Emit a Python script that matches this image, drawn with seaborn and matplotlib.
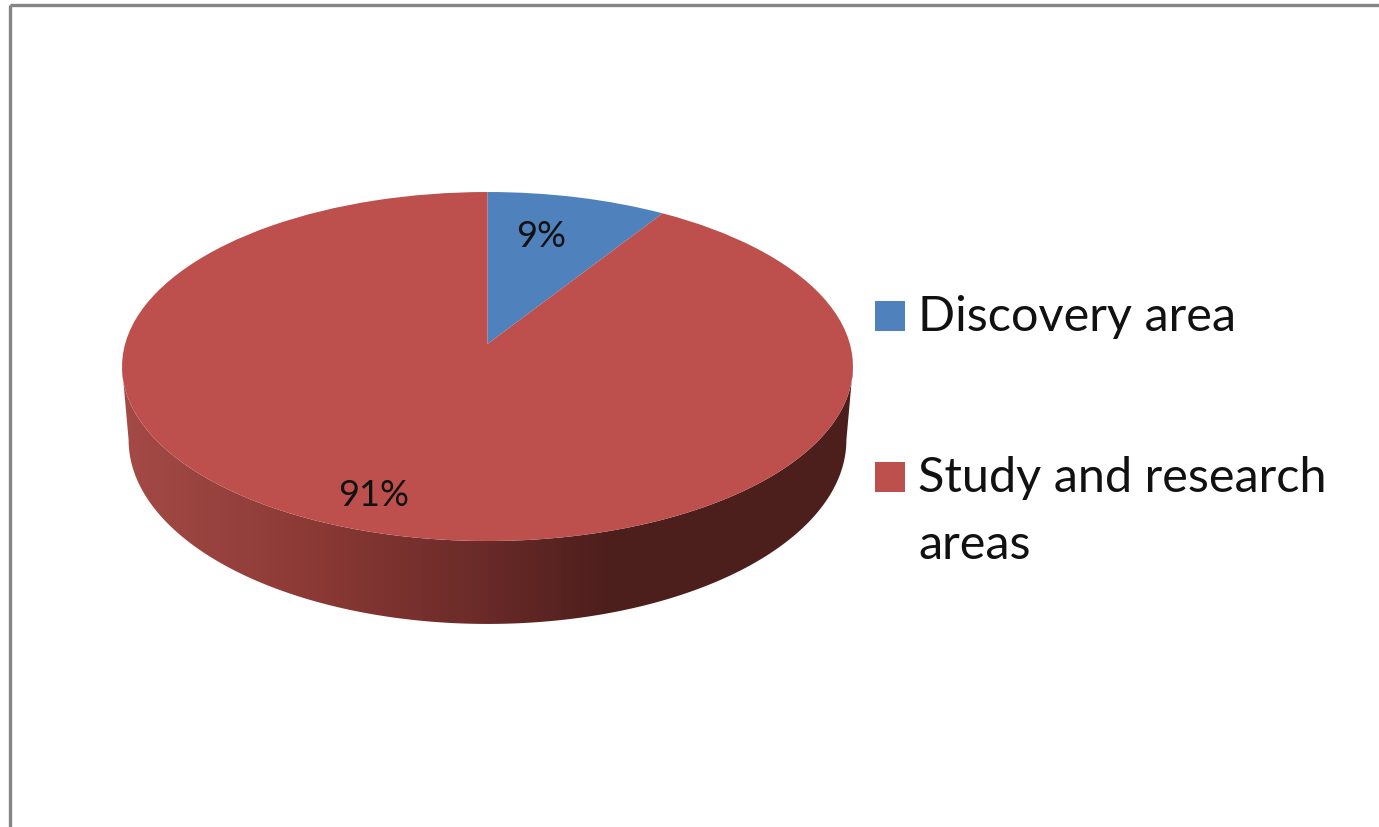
"""
3D style pie: discovery area vs study and research areas
"""

import numpy as np
import matplotlib
matplotlib.use('Agg')
import matplotlib.pyplot as plt
import seaborn as sns
from matplotlib.patches import Polygon, Rectangle
from matplotlib.transforms import Transform

# Data
categories = ['Discovery area', 'Study and research\nareas']
shares = [9, 91]
slice_colors = ['#4F81BD', '#BD4F4C']
wall_colors = ['#A34A46', '#8C3A36', '#692A28', '#4C1E1C', '#4C1E1C']
wall_stops = [0.0, 0.25, 0.5, 0.67, 1.0]

sns.set_theme(style='white')
plt.rcParams['font.family'] = ['Lato', 'DejaVu Sans']

# Perspective of the disc, all in picture pixels
CX, APEX_Y = 487.5, 345.0
RX, RY, K = 362.4, 171.6, 0.129
MID_Y = 367.5
WALL_DROP, WALL_SCALE_X, WALL_SCALE_Y = 73.5, 0.982, 1.054


def project(u, v, lower=False):
    x = CX + RX * u / (1 + K * v)
    y = APEX_Y - RY * v / (1 + K * v)
    if lower:
        x = CX + WALL_SCALE_X * (x - CX)
        y = MID_Y + WALL_DROP + WALL_SCALE_Y * (y - MID_Y)
    return x, y


class TiltedDisc(Transform):
    input_dims = 2
    output_dims = 2

    def transform_non_affine(self, values):
        x, y = project(values[:, 0], values[:, 1])
        return np.column_stack([x, y])


fig = plt.figure(figsize=(13.79, 8.28), dpi=100)
ax = fig.add_axes([0, 0, 1, 1])

wedges, _ = ax.pie(shares, colors=slice_colors, startangle=90, counterclock=False,
                   wedgeprops={'linewidth': 0})
ax.set_aspect('auto')
ax.axis('off')
for w in wedges:
    w.set_transform(TiltedDisc() + ax.transData)
    w.set_zorder(3)

# Front wall with the left to right shading, between the two widest points of the disc
edge = np.arcsin(K)
angles = np.linspace(np.pi + edge, 2 * np.pi - edge, 300)
top_x, top_y = project(np.cos(angles), np.sin(angles))
low_x, low_y = project(np.cos(angles), np.sin(angles), lower=True)
outline = np.column_stack([np.r_[top_x, low_x[::-1]], np.r_[top_y, low_y[::-1]]])
wall = Polygon(outline, closed=True, fc='none', ec='none', transform=ax.transData)
ax.add_patch(wall)

wall_cmap = matplotlib.colors.LinearSegmentedColormap.from_list(
    'wall', list(zip(wall_stops, sns.color_palette(wall_colors))))
shade = ax.imshow(np.linspace(0, 1, 90)[None, :], cmap=wall_cmap, aspect='auto',
                  extent=(122, 855, 640, 340), interpolation='nearest', zorder=2)
shade.set_clip_path(wall)
ax.set_xlim(0, 1379)
ax.set_ylim(828, 0)

# Percent labels
ax.text(541, 247, f'{shares[0]}%', fontsize=26, color='#111111', ha='center', va='baseline', zorder=4)
ax.text(374, 506, f'{shares[1]}%', fontsize=26, color='#111111', ha='center', va='baseline', zorder=4)

# Legend
for y0, color, label in zip([302, 463], slice_colors, categories):
    ax.add_patch(Rectangle((875, y0), 30, 30, fc=color, ec='none', zorder=4))
    for i, line in enumerate(label.split('\n')):
        ax.text(918, y0 + 29.5 + 67 * i, line, fontsize=35, color='#111111', va='baseline', zorder=4)

# Frame of the original chart area, cut by the picture edge
ax.add_patch(Rectangle((9.7, 5.7), 3000, 3000, fc='none', ec='#858585', lw=2.4, zorder=5))

plt.savefig('out.png', dpi=100)
